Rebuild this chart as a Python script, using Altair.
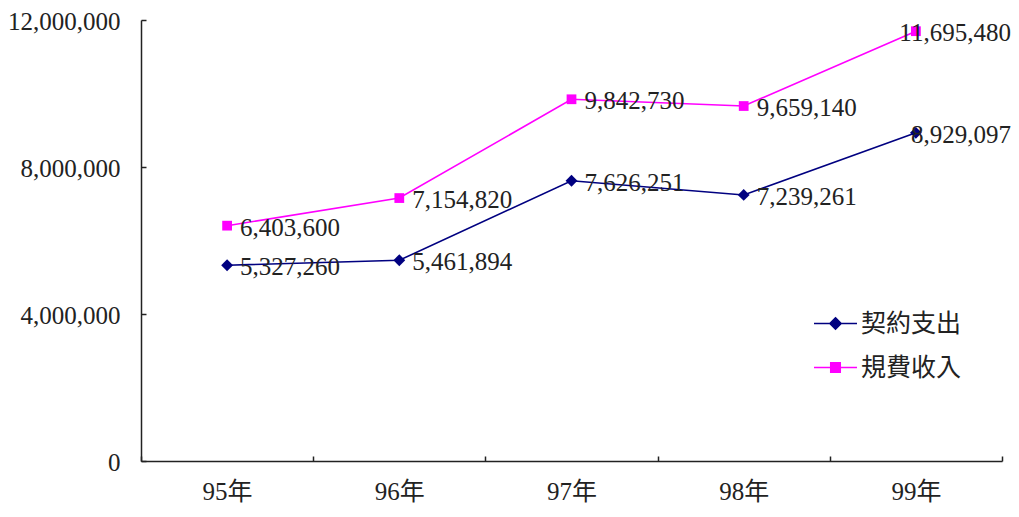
import altair as alt
import pandas as pd

years = ["95年", "96年", "97年", "98年", "99年"]
series_names = ["契約支出", "規費收入"]
contract = [5327260, 5461894, 7626251, 7239261, 8929097]
fees = [6403600, 7154820, 9842730, 9659140, 11695480]
y_ticks = [0, 4000000, 8000000, 12000000]
colors = ["#000080", "#FF00FF"]
marker_shapes = ["diamond", "square"]
marker_sizes = [140, 95]

rows = []
for y, v in zip(years, contract):
    rows.append({"year": y, "series": series_names[0], "value": v})
for y, v in zip(years, fees):
    rows.append({"year": y, "series": series_names[1], "value": v})
df = pd.DataFrame(rows)

SERIF = "Liberation Serif"
CJK = "Noto Sans CJK TC"
TXT = "#222222"

color_scale = alt.Scale(domain=series_names, range=colors)
shape_scale = alt.Scale(
    domain=series_names,
    range=[
        "M-2,0H2M0,-0.52L0.52,0L0,0.52L-0.52,0Z",
        "M-2,0H2M-0.44,-0.44H0.44V0.44H-0.44Z",
    ],
)

legend = alt.Legend(
    title=None, orient="none", legendX=682, legendY=291, padding=0,
    symbolSize=462, symbolStrokeWidth=1.6, symbolOpacity=1,
    labelFont=CJK, labelFontSize=25, labelColor=TXT, labelOffset=13,
    rowPadding=18,
)

x_enc = alt.X(
    "year:N", sort=years,
    scale=alt.Scale(type="band", paddingInner=0, paddingOuter=0),
    axis=alt.Axis(
        title=None, labelAngle=0, tickBand="extent", tickSize={"expr": "-5"},
        tickColor=TXT, tickWidth=1.5, domainColor=TXT, domainWidth=1.5,
        labelFont=SERIF + ", " + CJK, labelFontSize=25, labelColor=TXT,
        labelPadding=23,
    ),
)
y_enc = alt.Y(
    "value:Q",
    scale=alt.Scale(domain=[0, 12000000], nice=False),
    axis=alt.Axis(
        title=None, values=y_ticks, format=",d", grid=False,
        tickSize={"expr": "-5"}, tickColor=TXT, tickWidth=1.5,
        domainColor=TXT, domainWidth=1.5,
        labelFont=SERIF, labelFontSize=25, labelColor=TXT,
        labelPadding=26, labelOffset=1,
    ),
)

base = alt.Chart(df).encode(x=x_enc, y=y_enc)

layers = []
for name, col, shp, sz in zip(series_names, colors, marker_shapes, marker_sizes):
    sub = base.transform_filter(alt.datum.series == name)
    layers.append(sub.mark_line(strokeWidth=1.6, color=col))
    layers.append(sub.mark_point(filled=True, shape=shp, size=sz, opacity=1, color=col))

labels = base.transform_filter(alt.datum.year != years[-1]).mark_text(
    align="left", baseline="middle", dx=13, dy=2, font=SERIF, fontSize=25, color=TXT
).encode(text=alt.Text("value:Q", format=","))
labels_last = base.transform_filter(alt.datum.year == years[-1]).mark_text(
    align="right", baseline="middle", dx=95, dy=2, font=SERIF, fontSize=25, color=TXT
).encode(text=alt.Text("value:Q", format=","))

legend_layer = base.transform_filter("false").mark_point(
    filled=True, size=462, strokeWidth=1.6, opacity=1
).encode(
    color=alt.Color("series:N", scale=color_scale, legend=legend),
    stroke=alt.Stroke("series:N", scale=color_scale, legend=legend),
    shape=alt.Shape("series:N", scale=shape_scale, legend=legend),
)

chart = alt.layer(*layers, labels, labels_last, legend_layer).properties(
    width=861, height=441,
    autosize=alt.AutoSizeParams(type="none"),
    padding={"left": 133, "top": 12, "right": 9, "bottom": 44},
).configure_view(stroke=None)

chart.save("out.html", embed_options={"renderer": "svg", "actions": False})
